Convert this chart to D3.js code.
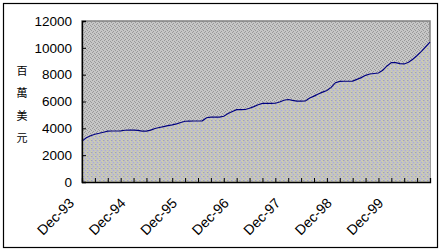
<!DOCTYPE html>
<html>
<head>
<meta charset="utf-8">
<script src="https://cdn.jsdelivr.net/npm/d3@7"></script>
<style>
body { margin: 0; background: #fff; }
svg { display: block; }
</style>
</head>
<body>
<div id="chart"></div>
<script>
// monthly values, Dec-93 .. Sep-00 (millions of USD)
var values = [
    3050, 3300, 3450, 3560, 3630, 3710, 3790, 3800, 3800, 3810, 3860, 3870,
    3870, 3850, 3790, 3790, 3870, 3990, 4060, 4130, 4200, 4260, 4330, 4430,
    4530, 4540, 4550, 4550, 4560, 4790, 4830, 4840, 4840, 4900, 5100, 5250,
    5390, 5390, 5400, 5500, 5620, 5760, 5860, 5860, 5860, 5870, 5960, 6090,
    6150, 6080, 6030, 6030, 6040, 6260, 6400, 6560, 6700, 6820, 7050, 7400,
    7500, 7510, 7510, 7520, 7650, 7780, 7950, 8050, 8090, 8120, 8330, 8650,
    8900, 8900, 8820, 8800, 8920, 9150, 9430, 9740, 10080, 10430
];
var tickLabels = ["Dec-93", "Dec-94", "Dec-95", "Dec-96", "Dec-97", "Dec-98", "Dec-99"];
var yTicks = [0, 2000, 4000, 6000, 8000, 10000, 12000];
var yTitle = ["百", "萬", "美", "元"];
var monthNames = ["Jan", "Feb", "Mar", "Apr", "May", "Jun", "Jul", "Aug", "Sep", "Oct", "Nov", "Dec"];

var categories = [];
for (var i = 0; i < values.length; i++) {
    var m = (11 + i) % 12;
    var yr = (93 + Math.floor((11 + i) / 12)) % 100;
    categories.push(monthNames[m] + "-" + (yr < 10 ? "0" + yr : yr));
}

var W = 443, H = 252;
var plot = {left: 82, right: 430, top: 21, bottom: 182};

var svg = d3.select("#chart").append("svg")
    .attr("width", W)
    .attr("height", H);

// dither-like patterns
var defs = svg.append("defs");
var bgPat = defs.append("pattern")
    .attr("id", "bgpat")
    .attr("patternUnits", "userSpaceOnUse")
    .attr("width", 4).attr("height", 4);
bgPat.append("rect").attr("width", 4).attr("height", 4).attr("fill", "#c6c6c6");
[[0, 0], [2, 1], [1, 3], [3, 2]].forEach(function(p) {
    bgPat.append("rect").attr("x", p[0]).attr("y", p[1]).attr("width", 1).attr("height", 1)
        .attr("fill", "#999999");
});

var arPat = defs.append("pattern")
    .attr("id", "arpat")
    .attr("patternUnits", "userSpaceOnUse")
    .attr("width", 4).attr("height", 4);
arPat.append("rect").attr("width", 4).attr("height", 4).attr("fill", "#c2c2c2");
[[0, 0, "#acacdc"], [2, 1, "#d4d4a4"], [1, 2, "#acacdc"], [3, 3, "#d4d4a4"], [3, 0, "#a8a8a8"], [1, 0, "#d0d0b0"]].forEach(function(p) {
    arPat.append("rect").attr("x", p[0]).attr("y", p[1]).attr("width", 1).attr("height", 1)
        .attr("fill", p[2]);
});

// outer border
svg.append("rect")
    .attr("x", 3.5).attr("y", 3.5)
    .attr("width", 434).attr("height", 244)
    .attr("fill", "#fff")
    .attr("stroke", "#000")
    .attr("stroke-width", 1.2);

var x = d3.scalePoint()
    .domain(categories)
    .range([plot.left, plot.right]);

var y = d3.scaleLinear()
    .domain([0, 12000])
    .range([plot.bottom, plot.top]);

// plot background
svg.append("rect")
    .attr("x", plot.left).attr("y", plot.top)
    .attr("width", plot.right - plot.left)
    .attr("height", plot.bottom - plot.top)
    .attr("fill", "url(#bgpat)")
    .attr("stroke", "#808080")
    .attr("stroke-width", 1.5);

var area = d3.area()
    .x(function(d, i) { return x(categories[i]); })
    .y0(y(0))
    .y1(function(d) { return y(d); });

svg.append("path")
    .datum(values)
    .attr("d", area)
    .attr("fill", "url(#arpat)");

var line = d3.line()
    .x(function(d, i) { return x(categories[i]); })
    .y(function(d) { return y(d); });

svg.append("path")
    .datum(values)
    .attr("d", line)
    .attr("fill", "none")
    .attr("stroke", "#000080")
    .attr("stroke-width", 1.15);

// y axis
var yAxis = svg.append("g")
    .attr("transform", "translate(" + plot.left + ",0)")
    .call(d3.axisLeft(y).tickValues(yTicks).tickSize(-4).tickPadding(10).tickFormat(d3.format("d")));
yAxis.select(".domain").attr("stroke", "#000").attr("stroke-width", 1.3);
yAxis.selectAll(".tick line").attr("stroke", "#000");
yAxis.selectAll(".tick text")
    .attr("font-family", "Liberation Sans, Arial, sans-serif")
    .attr("font-size", 13.5)
    .attr("fill", "#000");

// x axis, tick every quarter
var quarterTicks = categories.filter(function(c, i) { return i % 3 === 0; });
var xAxis = svg.append("g")
    .attr("transform", "translate(0," + plot.bottom + ")")
    .call(d3.axisBottom(x).tickValues(quarterTicks).tickSize(-4).tickFormat(""));
xAxis.select(".domain").attr("stroke", "#000").attr("stroke-width", 1.3);
xAxis.selectAll(".tick line").attr("stroke", "#000");

svg.selectAll(".xlab")
    .data(tickLabels)
    .enter()
    .append("text")
    .attr("class", "xlab")
    .attr("transform", function(d) {
        return "translate(" + (x(d) - 7) + "," + 204 + ") rotate(-45)";
    })
    .attr("text-anchor", "end")
    .attr("font-family", "Liberation Sans, Arial, sans-serif")
    .attr("font-size", 14)
    .attr("fill", "#000")
    .text(function(d) { return d; });

// vertical title
svg.selectAll(".ytitle")
    .data(yTitle)
    .enter()
    .append("text")
    .attr("class", "ytitle")
    .attr("x", 22)
    .attr("y", function(d, i) { return 75 + i * 22.3; })
    .attr("text-anchor", "middle")
    .attr("font-family", "Noto Sans CJK TC, sans-serif")
    .attr("font-size", 11)
    .attr("fill", "#000")
    .text(function(d) { return d; });
</script>
</body>
</html>
